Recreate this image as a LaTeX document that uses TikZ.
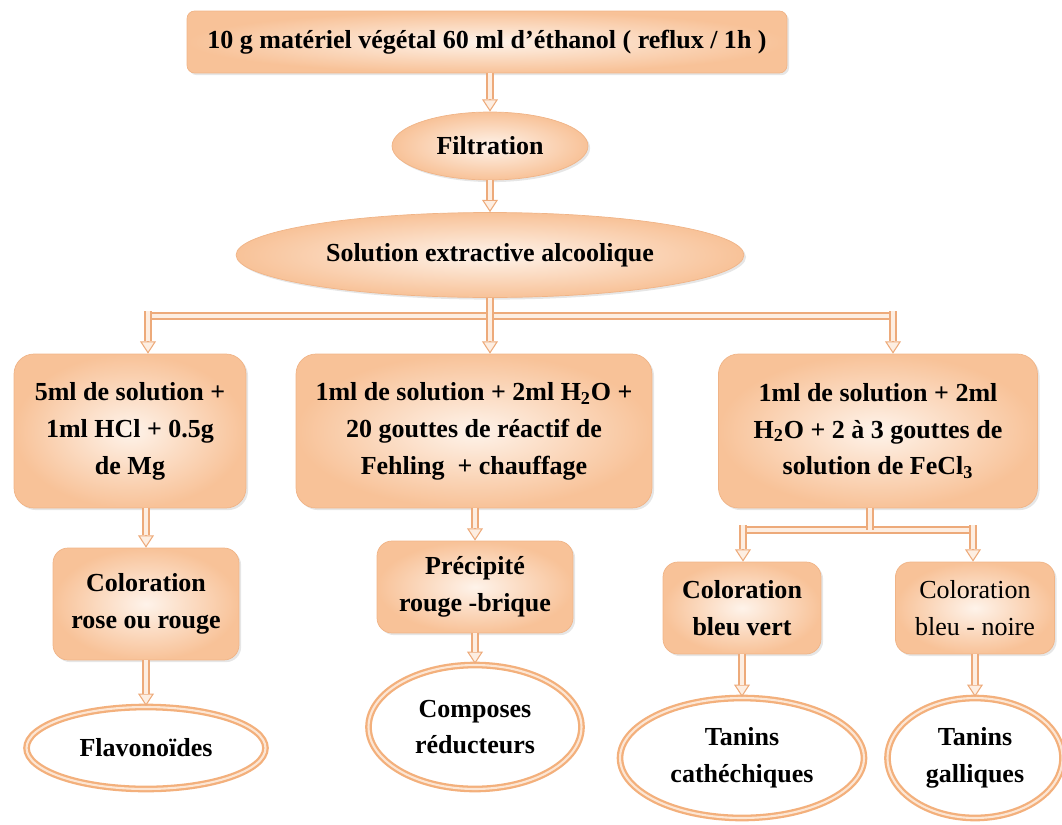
\documentclass[tikz,border=0pt]{standalone}
\usepackage{fontspec}
\setmainfont{Liberation Serif}
\usetikzlibrary{arrows.meta, shapes.geometric, shadows}

\definecolor{boxorange}{HTML}{F8C298}
\definecolor{boxlight}{HTML}{FEF3EA}
\definecolor{boxedge}{HTML}{F0B487}
\definecolor{pipeedge}{HTML}{EDAA7A}
\definecolor{pipefill}{HTML}{FDEEE2}
\definecolor{ringorange}{HTML}{F3B07C}
\definecolor{ringlight}{HTML}{FCE6D4}

\tikzset{
	pipe/.style={draw=pipeedge, line width=0.6pt, double=pipefill, double distance=2.8pt},
	pipetip/.style={draw=pipeedge, line width=0.6pt, -{Triangle[length=7pt, width=9pt, fill=pipefill]}}
}
\newcommand{\pipearrow}[2]{%
	\draw[pipetip] (#1) -- (#2);
	\draw[pipe, shorten >=7pt] (#1) -- (#2);
}

\begin{document}
\begin{tikzpicture}[
			x=0.02cm, y=-0.02cm,
			box/.style={rectangle, rounded corners=3mm, align=center, inner color=boxlight, outer color=boxorange, draw=boxedge, line width=0.4pt, drop shadow={shadow xshift=1.2pt, shadow yshift=-1.2pt, opacity=0.2}, font=\bfseries\fontsize{14.8}{21}\selectfont},
			oval/.style={ellipse, inner sep=0pt, align=center, inner color=boxlight, outer color=boxorange, draw=boxedge, line width=0.4pt, drop shadow={shadow xshift=1.2pt, shadow yshift=-1.2pt, opacity=0.2}, font=\bfseries\fontsize{14.8}{21}\selectfont},
			ring/.style={ellipse, inner sep=0pt, align=center, fill=white, draw=ringorange, line width=1.3pt, double=ringlight, double distance=1.2pt, font=\bfseries\fontsize{14.8}{21}\selectfont}
			]
			\useasboundingbox (0,0) rectangle (1062,825);
			
			% --- Extraction ---
			\node[box, rounded corners=1.5mm, minimum width=12cm, minimum height=1.24cm] (extr) at (487,42) {10 g matériel végétal 60 ml d’éthanol ( reflux / 1h )};
			\node[oval, minimum width=3.92cm, minimum height=1.36cm] (filt) at (490,146) {Filtration};
			\node[oval, minimum width=10.16cm, minimum height=1.7cm] (sol) at (490,255) {Solution extractive alcoolique};
			
			% --- Tests ---
			\node[box, rounded corners=4mm, minimum width=4.64cm, minimum height=3.08cm] (mg) at (130,431) {5ml de solution +\\1ml HCl + 0.5g\\de Mg};
			\node[box, rounded corners=4mm, minimum width=7.12cm, minimum height=3.08cm] (fehl) at (474,431) {1ml de solution + 2ml H\textsubscript{2}O +\\20 gouttes de réactif de\\Fehling~ + chauffage};
			\node[box, rounded corners=4mm, minimum width=6.38cm, minimum height=3.08cm] (fecl) at (878,431) {1ml de solution + 2ml\\H\textsubscript{2}O + 2 à 3 gouttes de\\solution de FeCl\textsubscript{3}};
			
			% --- Observations ---
			\node[box, minimum width=3.72cm, minimum height=2.24cm] (rose) at (146,604) {Coloration\\rose ou rouge};
			\node[box, minimum width=3.92cm, minimum height=1.84cm] (prec) at (475,587) {Précipité\\rouge -brique};
			\node[box, minimum width=3.16cm, minimum height=1.84cm] (vert) at (742,608) {Coloration\\bleu vert};
			\node[box, font=\fontsize{14.8}{21}\selectfont, minimum width=3.18cm, minimum height=1.84cm] (noir) at (975,608) {Coloration\\bleu - noire};
			
			% --- Families ---
			\node[ring, minimum width=4.78cm, minimum height=1.64cm] (flav) at (146,748) {Flavonoïdes};
			\node[ring, minimum width=4.26cm, minimum height=2.48cm] (red) at (475,727) {Composes\\réducteurs};
			\node[ring, minimum width=4.88cm, minimum height=2.4cm] (cat) at (742,758) {Tanins\\cathéchiques};
			\node[ring, minimum width=3.5cm, minimum height=2.4cm] (gal) at (975,758) {Tanins\\galliques};
			
			% --- Arrows ---
			\pipearrow{extr.south -| filt.north}{filt.north}
			\pipearrow{filt.south}{sol.north}
			
			\coordinate (dropL) at (148,311);
			\coordinate (dropR) at (893,311);
			\draw[pipe] (148,316) -- (893,316);
			\pipearrow{dropL}{dropL |- mg.north}
			\pipearrow{sol.south}{sol.south |- fehl.north}
			\pipearrow{dropR}{dropR |- fecl.north}
			
			\pipearrow{mg.south -| rose.north}{rose.north}
			\pipearrow{rose.south}{flav.north}
			\pipearrow{fehl.south -| prec.north}{prec.north}
			\pipearrow{prec.south}{red.north}
			
			% --- FeCl3 split ---
			\coordinate (fork) at (870,530);
			\coordinate (splitL) at (743,525);
			\coordinate (splitR) at (973,525);
			\draw[pipe] (splitL |- fork) -- (splitR |- fork);
			\draw[pipe] (fecl.south -| fork) -- (fork);
			\pipearrow{splitL}{splitL |- vert.north}
			\pipearrow{splitR}{splitR |- noir.north}
			\pipearrow{vert.south}{cat.north}
			\pipearrow{noir.south}{gal.north}
			
\end{tikzpicture}
\end{document}
